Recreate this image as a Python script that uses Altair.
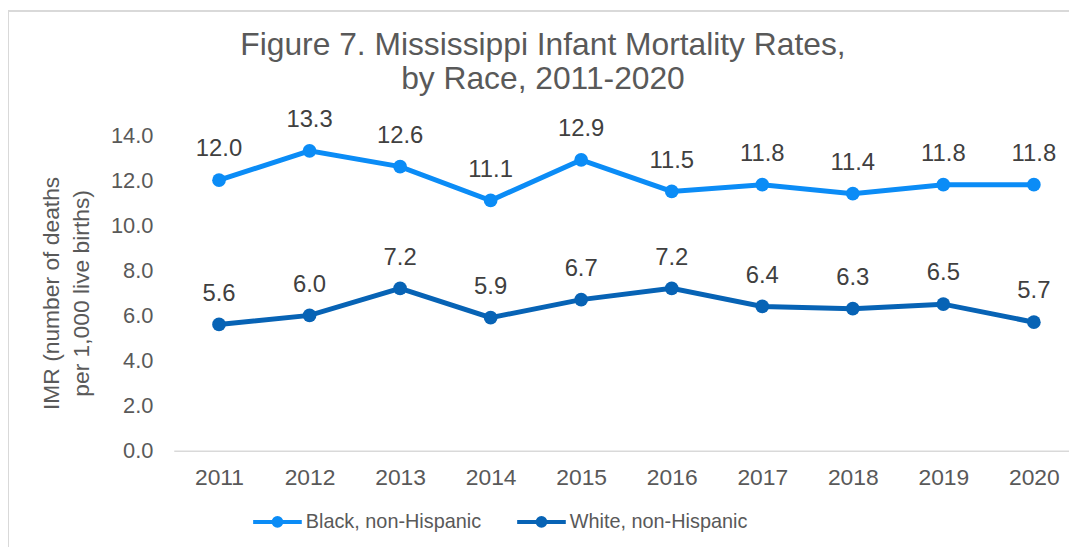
import altair as alt
import pandas as pd

years = [2011, 2012, 2013, 2014, 2015, 2016, 2017, 2018, 2019, 2020]
black = [12.0, 13.3, 12.6, 11.1, 12.9, 11.5, 11.8, 11.4, 11.8, 11.8]
white = [5.6, 6.0, 7.2, 5.9, 6.7, 7.2, 6.4, 6.3, 6.5, 5.7]
series_names = ["Black, non-Hispanic", "White, non-Hispanic"]
series_colors = ["#0B8CF6", "#0763B5"]
y_ticks = [0, 2, 4, 6, 8, 10, 12, 14]

rows = []
for name, vals in zip(series_names, [black, white]):
    for yr, v in zip(years, vals):
        rows.append({"Year": yr, "IMR": v, "Race": name})
df = pd.DataFrame(rows)

FONT = "Liberation Sans"
TXT = "#595959"

x_enc = alt.X("Year:Q",
              scale=alt.Scale(domain=[2010.5, 2020.388], nice=False, zero=False),
              axis=alt.Axis(values=years, format="d", title=None, grid=False,
                            ticks=False, labelFlush=False, labelPadding=16,
                            domainColor="#D9D9D9", domainWidth=1.5,
                            labelFontSize=23, labelColor=TXT, labelFont=FONT))
y_enc = alt.Y("IMR:Q",
              scale=alt.Scale(domain=[0, 14], nice=False),
              axis=alt.Axis(values=y_ticks, format=".1f", grid=False, ticks=False,
                            domain=False, labelPadding=21, labelFontSize=22,
                            labelColor=TXT, labelFont=FONT,
                            title=["IMR (number of deaths", "per 1,000 live births)"],
                            titleFont=FONT, titleFontSize=23, titleFontWeight="normal",
                            titleColor=TXT, titleAngle=-90, titleX=-134, titleY=159,
                            titleAlign="center", titleBaseline="top", titleLineHeight=30))

legend_path = ("M -1 0 L 1 0 M -0.16 0 A 0.16 0.16 0 1 0 0.16 0 "
               "A 0.16 0.16 0 1 0 -0.16 0 Z")

color_enc = alt.Color("Race:N",
                      scale=alt.Scale(domain=series_names, range=series_colors),
                      legend=alt.Legend(title=None, orient="none", direction="horizontal",
                                        legendX=78, legendY=363,
                                        symbolType=legend_path, symbolSize=2401,
                                        symbolStrokeWidth=4, labelFontSize=20,
                                        labelFont=FONT, labelColor=TXT, labelOffset=2,
                                        labelLimit=400, columnPadding=28))

base = alt.Chart(df)
lines = base.mark_line(strokeWidth=5,
                       point=alt.OverlayMarkDef(filled=True, size=190, opacity=1)).encode(
    x=x_enc, y=y_enc, color=color_enc)

labels = base.mark_text(dy=-24, baseline="alphabetic", fontSize=24, font=FONT,
                        color="#404040").encode(
    x="Year:Q", y="IMR:Q", text=alt.Text("IMR:Q", format=".1f"))

frame = alt.Data(values=[{"k": 1}])
left_border = alt.Chart(frame).mark_rule(color="#D9D9D9", strokeWidth=2).encode(
    x=alt.value(-167), y=alt.value(-125), y2=alt.value(421))
top_border = alt.Chart(frame).mark_rule(color="#D9D9D9", strokeWidth=2).encode(
    x=alt.value(-167), x2=alt.value(902), y=alt.value(-125))

chart = alt.layer(lines, labels, left_border, top_border).properties(
    width=902, height=318,
    background="white",
    autosize=alt.AutoSizeParams(type="none"),
    padding={"left": 167, "top": 126, "right": 0, "bottom": 95},
    title=alt.TitleParams(["Figure 7. Mississippi Infant Mortality Rates,",
                           "by Race, 2011-2020"],
                          anchor="middle", dx=-79, dy=125, fontSize=32, font=FONT,
                          fontWeight="normal", color=TXT, lineHeight=35, offset=38),
).configure_view(strokeWidth=0)

chart.save("out.html", embed_options={"renderer": "svg", "actions": False})
